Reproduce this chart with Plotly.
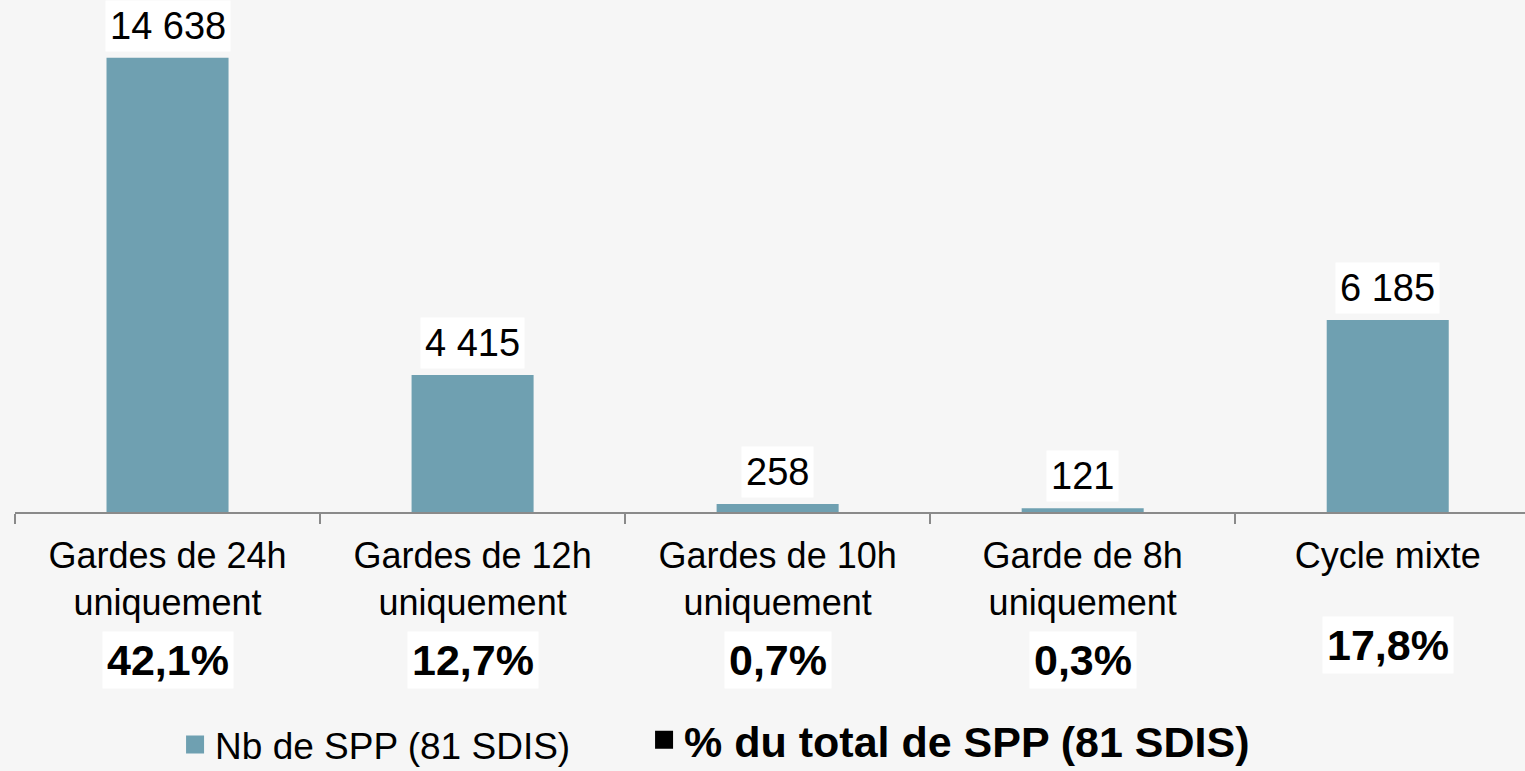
import plotly.graph_objects as go

categories = [
    "Gardes de 24h<br>uniquement",
    "Gardes de 12h<br>uniquement",
    "Gardes de 10h<br>uniquement",
    "Garde de 8h<br>uniquement",
    "Cycle mixte",
]
nb_spp = [14638, 4415, 258, 121, 6185]
pct_total = [42.1, 12.7, 0.7, 0.3, 17.8]

series_names = ["Nb de SPP (81 SDIS)", "% du total de SPP (81 SDIS)"]

BAR = "#6fa0b1"
AXIS = "#8a8a8a"
FONT = "Liberation Sans, Arial, sans-serif"


def fr_int(v):
    return f"{v:,}".replace(",", "\u00a0")


def fr_pct(v):
    return f"{v:.1f}".replace(".", ",") + "%"


fig = go.Figure()
fig.add_trace(go.Bar(
    x=categories, y=nb_spp, name=series_names[0], showlegend=False,
    marker=dict(color=BAR, line=dict(width=0)),
    width=0.4,
))

# legend entries (square swatches), one legend each so they can be placed freely
fig.add_trace(go.Scatter(
    x=[None], y=[None], mode="markers", name=series_names[0], legend="legend",
    marker=dict(symbol="square", size=16, color=BAR, line=dict(color=BAR, width=2)),
))
fig.add_trace(go.Scatter(
    x=[None], y=[None], mode="markers", name="<b>" + series_names[1] + "</b>",
    legend="legend2",
    marker=dict(symbol="square", size=16, color="black", line=dict(color="black", width=2)),
))

for cat, v in zip(categories, nb_spp):
    fig.add_annotation(
        x=cat, y=v, text=fr_int(v), showarrow=False,
        yanchor="bottom", yshift=6, bgcolor="white", borderpad=4,
        font=dict(size=38, color="black", family=FONT),
    )

for cat, p in zip(categories, pct_total):
    two_lines = "<br>" in cat
    fig.add_annotation(
        x=cat, y=-0.289 if two_lines else -0.26, yref="paper",
        text="<b>" + fr_pct(p) + "</b>", showarrow=False,
        yanchor="middle", bgcolor="white", borderpad=4,
        font=dict(size=43, color="black", family=FONT),
    )

fig.update_layout(
    width=1525, height=771,
    margin=dict(l=15, r=0, t=0, b=259, autoexpand=False),
    paper_bgcolor="#f6f6f6", plot_bgcolor="rgba(0,0,0,0)",
    font=dict(family=FONT, color="black", size=36),
    showlegend=True,
    legend=dict(
        orientation="h", x=0.106, xanchor="left", y=-0.455, yanchor="middle",
        font=dict(size=37, color="black", family=FONT),
        bgcolor="rgba(0,0,0,0)",
    ),
    legend2=dict(
        orientation="h", x=0.4166, xanchor="left", y=-0.445, yanchor="middle",
        font=dict(size=43, color="black", family=FONT),
        bgcolor="rgba(0,0,0,0)",
    ),
    xaxis=dict(
        type="category", range=[-0.5, 4.45],
        showline=True, linecolor=AXIS, linewidth=2,
        ticks="outside", tickson="boundaries", ticklen=10, tickcolor=AXIS,
        tickwidth=2, ticklabelstandoff=11,
        tickfont=dict(size=36, family=FONT, color="black"),
        showgrid=False,
    ),
    yaxis=dict(range=[0, 16500], visible=False, showgrid=False, zeroline=False),
)

fig.write_html(
    "out.html",
    config={"displayModeBar": False},
    post_script="document.body.style.margin='0';",
)
